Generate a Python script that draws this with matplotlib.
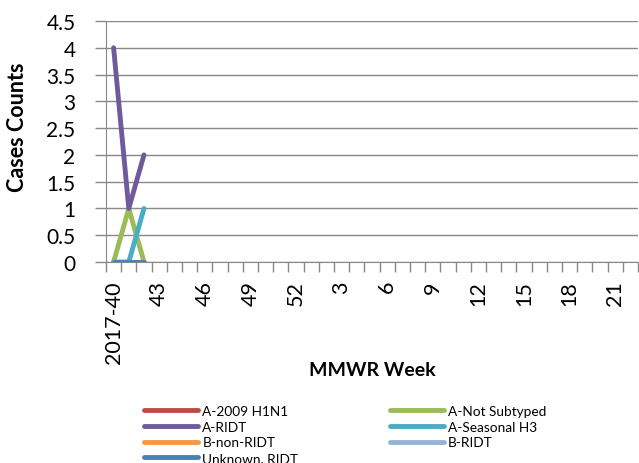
import matplotlib
matplotlib.use('Agg')
import matplotlib.pyplot as plt
import numpy as np

plt.rcParams['font.family'] = ['Lato', 'DejaVu Sans']

# MMWR weeks shown on the axis: 2017-40 .. 52, then 1 .. 22
weeks = [str(w) for w in range(40, 53)] + [str(w) for w in range(1, 23)]
weeks[0] = '2017-40'

# reported counts (only the first three weeks have data)
a_h1n1 = [0, 0, 0]
a_not_subtyped = [0, 1, 0]
a_ridt = [4, 1, 2]
a_h3 = [0, 0, 1]
b_non_ridt = [0, 0, 0]
b_ridt = [0, 0, 0]
unknown_ridt = [0, 0, 0]

series = [
    ('A-2009 H1N1', a_h1n1, '#BE4B48'),
    ('A-Not Subtyped', a_not_subtyped, '#9BBB59'),
    ('A-RIDT', a_ridt, '#6F5A9C'),
    ('A-Seasonal H3', a_h3, '#4BACC6'),
    ('B-non-RIDT', b_non_ridt, '#F79646'),
    ('B-RIDT', b_ridt, '#95B3D7'),
    ('Unknown, RIDT', unknown_ridt, '#4A7EBB'),
]

fig = plt.figure(figsize=(6.39, 4.64), dpi=100)
ax = fig.add_axes([106/639, 1 - 263/464, 532/639, 241/464])

handles = {}
for name, vals, col in series:
    x = np.arange(len(vals))
    h, = ax.plot(x, vals, color=col, lw=3.5, solid_capstyle='round', label=name)
    handles[name] = h

ax.set_xlim(-0.5, len(weeks) - 0.5)
ax.set_ylim(0, 4.5)
ax.set_yticks(np.arange(0, 4.51, 0.5))
ax.set_yticklabels(['0', '0.5', '1', '1.5', '2', '2.5', '3', '3.5', '4', '4.5'])
ax.grid(axis='y', color='#888888', lw=1)
ax.set_axisbelow(True)

lab_idx = list(range(0, len(weeks), 3))
ax.set_xticks(lab_idx)
ax.set_xticklabels([weeks[i] for i in lab_idx], rotation=90, fontsize=15.5)
ax.set_xticks(np.arange(-0.5, len(weeks), 1), minor=True)
ax.tick_params(axis='x', which='major', length=0, pad=13)
ax.tick_params(axis='x', which='minor', length=7, color='#888888', width=1)
ax.tick_params(axis='y', length=8, color='#888888', width=1, labelsize=15, pad=14)

for s in ['top', 'right']:
    ax.spines[s].set_visible(False)
for s in ['left', 'bottom']:
    ax.spines[s].set_color('#888888')

ax.set_ylabel('Cases Counts', fontsize=15.5, fontweight='bold')
ax.yaxis.set_label_coords(-0.147, 0.564)
fig.text(372/639, 1 - 371/464, 'MMWR Week', fontsize=14, fontweight='bold',
         ha='center', va='center')

order = ['A-2009 H1N1', 'A-RIDT', 'B-non-RIDT', 'Unknown, RIDT',
         'A-Not Subtyped', 'A-Seasonal H3', 'B-RIDT']
fig.legend([handles[n] for n in order], order, ncol=2, frameon=False,
           loc='upper left', bbox_to_anchor=(137/639, 1 - 399/464),
           fontsize=9.8, handlelength=4, handletextpad=0.3, columnspacing=6.7,
           labelspacing=0.28, borderpad=0)

fig.savefig('out.png', dpi=100)
